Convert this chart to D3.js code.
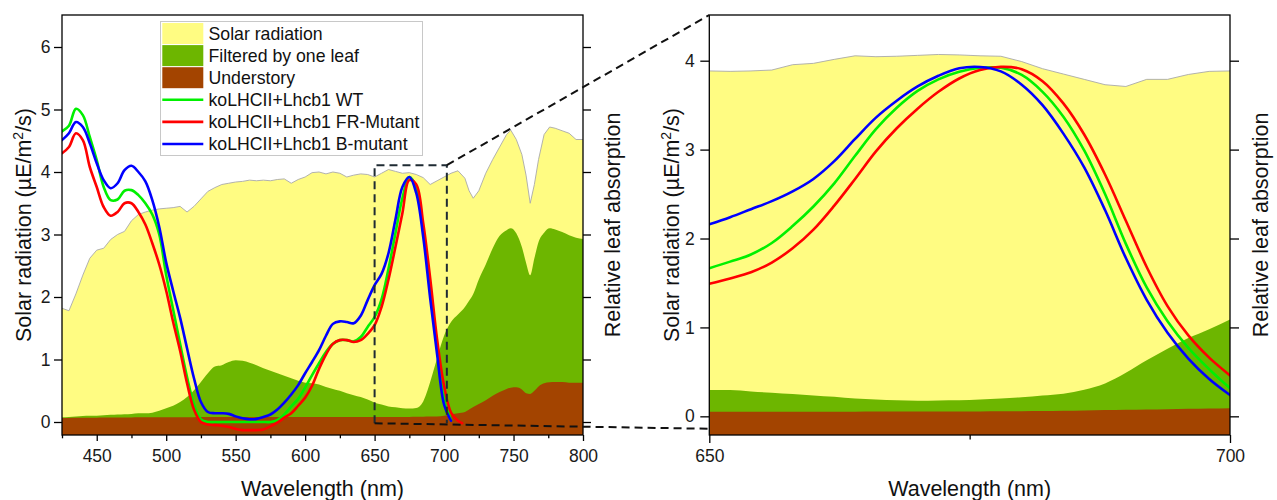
<!DOCTYPE html>
<html>
<head>
<meta charset="utf-8">
<script src="https://cdn.jsdelivr.net/npm/d3@7"></script>
<style>
  body { margin: 0; background: #fff; }
  svg text { font-family: "Liberation Sans", Arial, sans-serif; }
</style>
</head>
<body>
<svg id="chart" width="1277" height="500"></svg>
<script>
// ---------- Full-range spectra (wavelength in nm, radiation in µE/m²/s) ----------
const spectrumNm = [425,430,435,440,445,450,455,460,465,470,475,480,485,490,495,500,505,510,515,520,
  525,530,535,540,545,550,555,560,565,570,575,580,585,590,595,600,605,610,615,620,
  625,630,635,640,645,650,655,660,665,670,675,680,685,690,695,700,705,710,715,718,
  721,725,730,735,740,745,748,752,756,759,762,765,768,772,776,780,785,790,795,800];

const solarRadiation = [1.82,1.78,2.05,2.35,2.62,2.75,2.78,2.92,3.00,3.05,
  3.22,3.32,3.36,3.39,3.41,3.42,3.43,3.45,3.36,3.45,
  3.57,3.69,3.75,3.80,3.82,3.84,3.85,3.87,3.86,3.87,
  3.86,3.88,3.89,3.82,3.88,3.92,3.99,4.00,3.97,4.00,
  3.98,3.92,3.95,3.97,3.96,3.92,3.98,4.04,4.01,3.98,
  3.99,3.96,3.91,3.80,3.86,3.92,3.98,4.02,3.90,3.70,
  3.58,3.70,3.98,4.20,4.40,4.60,4.67,4.52,4.28,3.95,
  3.50,3.80,4.20,4.60,4.72,4.70,4.66,4.62,4.52,4.52];

const filteredByLeaf = [0.075,0.08,0.09,0.095,0.10,0.10,0.11,0.115,0.12,0.125,
  0.13,0.14,0.14,0.15,0.18,0.22,0.26,0.32,0.40,0.51,
  0.64,0.78,0.89,0.91,0.96,0.99,0.98,0.95,0.91,0.86,
  0.82,0.78,0.74,0.70,0.66,0.63,0.62,0.60,0.56,0.53,
  0.50,0.46,0.43,0.40,0.36,0.31,0.28,0.25,0.235,0.22,
  0.215,0.225,0.33,0.64,1.02,1.38,1.60,1.72,1.84,1.94,
  2.05,2.28,2.52,2.78,2.98,3.07,3.10,3.02,2.80,2.55,
  2.35,2.62,2.88,3.03,3.10,3.08,3.04,2.99,2.95,2.93];

const understory = [0.065,0.065,0.067,0.069,0.07,0.07,0.071,0.072,0.073,0.073,
  0.074,0.075,0.075,0.075,0.075,0.075,0.077,0.077,0.078,0.078,
  0.079,0.079,0.08,0.08,0.08,0.08,0.08,0.08,0.08,0.08,
  0.08,0.08,0.08,0.08,0.08,0.08,0.08,0.08,0.08,0.08,
  0.08,0.08,0.08,0.08,0.08,0.08,0.08,0.08,0.08,0.081,
  0.082,0.083,0.085,0.087,0.09,0.10,0.12,0.14,0.16,0.20,
  0.24,0.29,0.35,0.42,0.48,0.53,0.55,0.555,0.52,0.46,
  0.45,0.50,0.57,0.62,0.635,0.64,0.64,0.63,0.63,0.63];

// ---------- Relative leaf absorption, full range ----------
const absorbNm = [425,430,435,440,445,450,455,460,465,470,475,480,485,490,495,500,505,510,515,520,
  525,530,535,540,545,550,555,560,565,570,575,580,585,590,595,600,605,610,615,620,
  625,630,635,640,645,650,655,660,665,670,675,680,685,690,695,700,705,710,713];

const absWT = [4.65,4.74,5.01,4.91,4.56,4.19,3.76,3.55,3.56,3.70,3.71,3.63,3.50,3.32,3.00,2.35,1.80,1.25,0.72,0.28,
  0.04,0.00,0.00,0.00,0.00,0.00,0.00,0.00,0.00,0.00,0.00,0.03,0.12,0.25,0.37,0.55,0.75,0.94,1.12,1.25,
  1.31,1.31,1.29,1.36,1.52,1.68,1.96,2.45,3.02,3.58,3.92,3.75,3.05,2.15,1.22,0.40,0.03,null,null];

const absFR = [4.30,4.40,4.62,4.51,4.08,3.76,3.44,3.30,3.36,3.50,3.50,3.36,3.16,2.86,2.52,2.10,1.60,1.14,0.62,0.20,
  0.00,-0.04,-0.05,-0.06,-0.08,-0.11,-0.13,-0.13,-0.13,-0.12,-0.07,-0.01,0.07,0.14,0.26,0.39,0.58,0.85,1.08,1.25,
  1.31,1.31,1.28,1.31,1.41,1.55,1.84,2.28,2.80,3.34,3.87,3.80,3.18,2.30,1.32,0.58,0.15,0.02,-0.02];

const absB = [4.51,4.62,4.80,4.72,4.46,4.14,3.87,3.74,3.82,4.03,4.10,4.00,3.85,3.55,3.12,2.55,2.10,1.67,1.18,0.70,
  0.32,0.16,0.14,0.14,0.13,0.09,0.06,0.045,0.05,0.08,0.12,0.20,0.31,0.44,0.59,0.78,0.96,1.15,1.38,1.57,
  1.61,1.60,1.58,1.70,1.95,2.19,2.37,2.70,3.24,3.76,3.92,3.66,2.96,1.98,1.08,0.28,0.02,null,null];

// ---------- Close-up, 650–700 nm ----------
const zoomNm = [650,652,654,656,658,660,662,664,666,668,670,672,674,676,678,680,682,684,686,688,690,692,694,696,698,700];
const zoomSolar    = [3.885,3.88,3.885,3.895,3.955,3.97,4.015,4.055,4.045,4.05,4.06,4.07,4.065,4.055,4.05,3.99,3.91,3.85,3.79,3.73,3.71,3.79,3.79,3.845,3.88,3.885];
const zoomFiltered = [0.296,0.296,0.28,0.265,0.25,0.235,0.22,0.20,0.19,0.18,0.175,0.178,0.18,0.19,0.20,0.215,0.235,0.255,0.30,0.37,0.49,0.63,0.76,0.88,0.98,1.09];
const zoomUnder    = [0.052,0.052,0.052,0.052,0.052,0.052,0.052,0.052,0.053,0.053,0.053,0.053,0.053,0.054,0.056,0.058,0.06,0.063,0.066,0.07,0.073,0.077,0.08,0.084,0.087,0.09];
const zoomWT = [1.665,1.74,1.82,1.95,2.14,2.36,2.62,2.93,3.23,3.47,3.66,3.79,3.875,3.92,3.92,3.84,3.65,3.37,2.99,2.50,1.94,1.45,1.07,0.77,0.53,0.315];
const zoomFR = [1.49,1.55,1.62,1.73,1.89,2.10,2.37,2.67,2.98,3.24,3.46,3.65,3.80,3.895,3.93,3.905,3.77,3.52,3.17,2.72,2.20,1.68,1.24,0.91,0.66,0.46];
const zoomB  = [2.16,2.24,2.33,2.42,2.53,2.67,2.87,3.12,3.36,3.55,3.71,3.83,3.915,3.93,3.88,3.73,3.50,3.18,2.80,2.32,1.78,1.31,0.94,0.65,0.42,0.24];

// ---------- Ticks and labels ----------
const fullXTicks = [450,500,550,600,650,700,750,800];
const fullXMinor = [425,475,525,575,625,675,725,775];
const fullYTicks = [0,1,2,3,4,5,6];
const zoomXTicks = [650,700];
const zoomXMinor = [675];
const zoomYTicks = [0,1,2,3,4];
const legendLabels = ["Solar radiation","Filtered by one leaf","Understory",
  "koLHCII+Lhcb1 WT","koLHCII+Lhcb1 FR-Mutant","koLHCII+Lhcb1 B-mutant"];
// region of the full-range plot that is enlarged on the right (nm, µE/m²/s)
const zoomRegionNm = [650, 702];
const zoomRegionVal = [-0.02, 4.11];

const COL = { solar:"#FFFC82", filtered:"#6DB600", under:"#A34400",
              wt:"#00F000", fr:"#FF0000", b:"#0000FF" };

const svg = d3.select("#chart");

function drawPanel(cfg) {
  const { id, x, y, nm, solar, filtered, under, curves } = cfg;
  const [x0, x1] = x.range();
  const [yb, yt] = y.range();
  const base = y.domain()[0];

  svg.append("clipPath").attr("id", id).append("rect")
    .attr("x", x0).attr("y", yt).attr("width", x1 - x0).attr("height", yb - yt);
  const g = svg.append("g").attr("clip-path", `url(#${id})`);

  const area = (vals, curve) => d3.area()
    .x((d, i) => x(nm[i])).y0(y(base)).y1(d => y(d)).curve(curve)(vals);

  g.append("path").attr("d", area(solar, d3.curveLinear)).attr("fill", COL.solar);
  g.append("path")
    .attr("d", d3.line().x((d, i) => x(nm[i])).y(d => y(d))(solar))
    .attr("fill", "none").attr("stroke", "#a9a9a9").attr("stroke-width", 0.9);
  g.append("path").attr("d", area(filtered, d3.curveMonotoneX)).attr("fill", COL.filtered);
  g.append("path").attr("d", area(under, d3.curveMonotoneX)).attr("fill", COL.under);

  curves.forEach(c => {
    const line = d3.line().defined(d => d != null)
      .x((d, i) => x(c.nm[i])).y(d => y(d)).curve(d3.curveCatmullRom.alpha(0.5));
    g.append("path").attr("d", line(c.values))
      .attr("fill", "none").attr("stroke", c.color).attr("stroke-width", 2.6)
      .attr("stroke-linejoin", "round").attr("stroke-linecap", "round");
  });

  const style = sel => {
    sel.select(".domain").remove();
    sel.attr("font-family", null).attr("font-size", null);
    sel.selectAll(".tick line").attr("stroke", "#000").attr("stroke-width", 1.3);
    sel.selectAll(".tick text").attr("font-size", 17.5).attr("fill", "#1a1a1a");
  };

  svg.append("g").attr("transform", `translate(0,${yb})`)
    .call(d3.axisBottom(x).tickValues(cfg.xTicks).tickSize(cfg.xTick).tickPadding(cfg.xPad).tickFormat(d3.format("d")))
    .call(style);
  svg.append("g").attr("transform", `translate(0,${yb})`)
    .call(d3.axisBottom(x).tickValues(cfg.xMinor).tickSize(cfg.xTick * 0.55).tickFormat(""))
    .call(style);
  svg.append("g").attr("transform", `translate(${x0},0)`)
    .call(d3.axisLeft(y).tickValues(cfg.yTicks).tickSize(cfg.yTick).tickPadding(cfg.yPad).tickFormat(d3.format("d")))
    .call(style);
  svg.append("g").attr("transform", `translate(${x1},0)`)
    .call(d3.axisRight(y).tickValues(cfg.yTicks).tickSize(cfg.yTick).tickFormat(""))
    .call(style);

  svg.append("rect").attr("x", x0).attr("y", yt).attr("width", x1 - x0).attr("height", yb - yt)
    .attr("fill", "none").attr("stroke", "#000").attr("stroke-width", 1.3);

  const cx = (x0 + x1) / 2, cy = (yt + yb) / 2;
  svg.append("text").attr("x", cx).attr("y", 495.5).attr("text-anchor", "middle")
    .attr("font-size", 21.5).attr("fill", "#111").text("Wavelength (nm)");

  const yt1 = svg.append("text").attr("transform", `translate(${cfg.yTitleX},${cy}) rotate(-90)`)
    .attr("text-anchor", "middle").attr("font-size", 21.5).attr("fill", "#111");
  yt1.append("tspan").text("Solar radiation (µE/m");
  yt1.append("tspan").attr("font-size", 14).attr("dy", -8).text("2");
  yt1.append("tspan").attr("dy", 8).text("/s)");

  svg.append("text").attr("transform", `translate(${cfg.y2TitleX},${cy}) rotate(-90)`)
    .attr("text-anchor", "middle").attr("font-size", 21.5).attr("fill", "#111")
    .text("Relative leaf absorption");
}

// ---------- Full-range panel ----------
const xFull = d3.scaleLinear().domain([425, 800]).range([62, 583]);
const yFull = d3.scaleLinear().domain([-0.208, 6.512]).range([435, 15]);
drawPanel({
  id: "clipFull", x: xFull, y: yFull, nm: spectrumNm,
  solar: solarRadiation, filtered: filteredByLeaf, under: understory,
  curves: [
    { nm: absorbNm, values: absWT, color: COL.wt },
    { nm: absorbNm, values: absFR, color: COL.fr },
    { nm: absorbNm, values: absB,  color: COL.b }
  ],
  xTicks: fullXTicks, xMinor: fullXMinor, yTicks: fullYTicks,
  xTick: 6, xPad: 9, yTick: 8, yPad: 3.5, yTitleX: 31, y2TitleX: 620
});

// ---------- Close-up panel ----------
const xZoom = d3.scaleLinear().domain([650, 700]).range([709.3, 1230]);
const yZoom = d3.scaleLinear().domain([-0.21, 4.514]).range([435, 15]);
drawPanel({
  id: "clipZoom", x: xZoom, y: yZoom, nm: zoomNm,
  solar: zoomSolar, filtered: zoomFiltered, under: zoomUnder,
  curves: [
    { nm: zoomNm, values: zoomWT, color: COL.wt },
    { nm: zoomNm, values: zoomFR, color: COL.fr },
    { nm: zoomNm, values: zoomB,  color: COL.b }
  ],
  xTicks: zoomXTicks, xMinor: zoomXMinor, yTicks: zoomYTicks,
  xTick: 8, xPad: 7, yTick: 9, yPad: 5.5, yTitleX: 679, y2TitleX: 1268
});

// ---------- Zoom region outline and connectors ----------
const bx0 = xFull(zoomRegionNm[0]), bx1 = xFull(zoomRegionNm[1]);
const by0 = yFull(zoomRegionVal[0]), by1 = yFull(zoomRegionVal[1]);
svg.append("path")
  .attr("d", `M${bx0},${by0}V${by1}H${bx1}V${by0}`)
  .attr("fill", "none").attr("stroke", "#1f2b33").attr("stroke-width", 2)
  .attr("stroke-dasharray", "8,5");
const zx = xZoom(650);
svg.append("line").attr("x1", bx1).attr("y1", by1).attr("x2", zx).attr("y2", yZoom(yZoom.domain()[1]))
  .attr("stroke", "#111").attr("stroke-width", 2).attr("stroke-dasharray", "8,5");
svg.append("line").attr("x1", bx0).attr("y1", by0).attr("x2", zx).attr("y2", yZoom(-0.14))
  .attr("stroke", "#111").attr("stroke-width", 2).attr("stroke-dasharray", "8,5");

// ---------- Legend ----------
const lg = svg.append("g");
lg.append("rect").attr("x", 160.5).attr("y", 21.5).attr("width", 262).attr("height", 134)
  .attr("fill", "#fff").attr("stroke", "#c8c8c8").attr("stroke-width", 1);
const swatch = [COL.solar, COL.filtered, COL.under, COL.wt, COL.fr, COL.b];
legendLabels.forEach((label, i) => {
  const yc = 33.5 + i * 22.1;
  if (i < 3) {
    lg.append("rect").attr("x", 162.3).attr("y", yc - 10.5).attr("width", 41).attr("height", 21)
      .attr("fill", swatch[i]);
  } else {
    lg.append("line").attr("x1", 162.3).attr("x2", 203.3).attr("y1", yc).attr("y2", yc)
      .attr("stroke", swatch[i]).attr("stroke-width", 2.6);
  }
  lg.append("text").attr("x", 208.5).attr("y", yc + 6).attr("font-size", 17.7)
    .attr("fill", "#111").text(label);
});
</script>
</body>
</html>
